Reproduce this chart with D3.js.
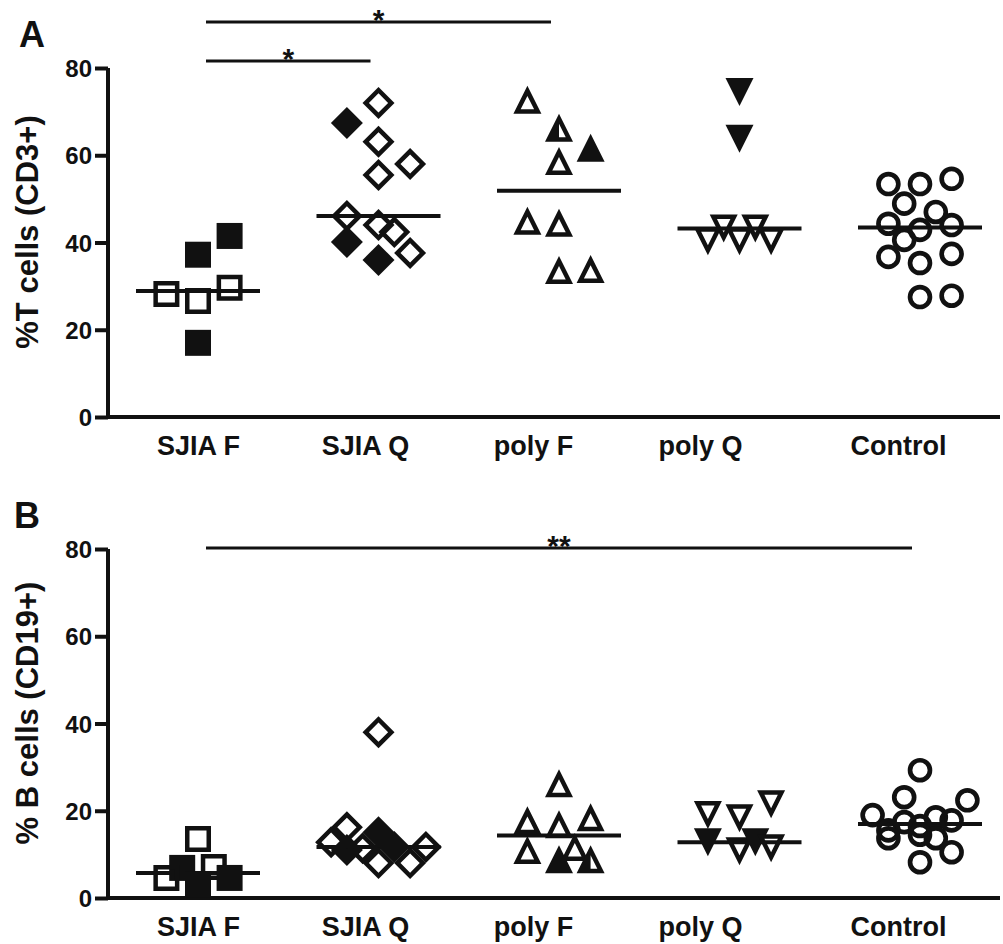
<!DOCTYPE html>
<html>
<head>
<meta charset="utf-8">
<script src="https://cdn.jsdelivr.net/npm/d3@7"></script>
<style>
body{margin:0;background:#fff;}
svg text{font-family:"Liberation Sans",Arial,sans-serif;font-weight:bold;fill:#111;}
</style>
</head>
<body>
<svg id="chart" width="1003" height="944"></svg>
<script>
var groups=['SJIA F','SJIA Q','poly F','poly Q','Control'];
var shapes=['square','diamond','triangle','invtriangle','circle'];
var yTicks=[0,20,40,60,80];

// each point: [value, fill (o=open, f=filled, h=half), column slot]
var tSjiaF=[[41.5,'f',2],[37.2,'f',0],[28.2,'o',-2],[26.6,'o',0],[29.6,'o',2],[17.0,'f',0]];
var tSjiaQ=[[72.0,'o',0],[67.4,'f',-2],[63.1,'o',0],[58.0,'o',2],[55.5,'o',0],[46.1,'o',-2],[44.0,'o',0],[42.4,'o',1],[40.1,'f',-2],[36.0,'f',0],[37.6,'o',2]];
var tPolyF=[[72.7,'o',-2],[66.3,'h',0],[61.7,'f',2],[58.7,'o',0],[45.0,'o',-2],[44.5,'o',0],[33.7,'o',0],[33.9,'o',2]];
var tPolyQ=[[74.5,'f',0],[63.8,'f',0],[43.2,'o',-1],[43.2,'o',1],[40.3,'o',-2],[40.3,'o',0],[40.3,'o',2]];
var tControl=[[53.4,'o',-2],[53.4,'o',0],[54.6,'o',2],[48.9,'o',-1],[47.0,'o',1],[44.3,'o',-2],[42.9,'o',0],[44.0,'o',2],[40.6,'o',-1],[36.7,'o',-2],[35.3,'o',0],[37.4,'o',2],[27.5,'o',0],[27.8,'o',2]];

var bSjiaF=[[13.5,'o',0],[6.9,'f',-1],[4.6,'o',-2],[7.1,'o',1],[3.0,'f',0],[4.6,'f',2]];
var bSjiaQ=[[38.0,'o',0],[16.2,'o',-2],[12.8,'o',-3],[11.0,'f',-2],[11.4,'o',-1],[15.1,'f',0],[11.7,'f',1],[8.0,'o',0],[8.0,'o',2],[11.7,'o',3]];
var bPolyF=[[26.3,'o',0],[17.8,'o',-2],[16.9,'o',0],[18.5,'o',2],[11.0,'o',-2],[8.9,'f',0],[11.7,'o',1],[8.9,'h',2]];
var bPolyQ=[[19.0,'o',-2],[18.3,'o',0],[21.5,'o',2],[12.8,'f',-2],[10.7,'o',0],[12.8,'f',1],[11.4,'o',2]];
var bControl=[[29.3,'o',0],[23.1,'o',-1],[22.4,'o',3],[19.0,'o',-3],[17.4,'o',-1],[16.5,'o',0],[18.5,'o',1],[17.8,'o',2],[15.5,'o',-2],[13.7,'o',-2],[13.7,'o',1],[10.5,'o',2],[8.2,'o',0],[14.5,'o',0]];

var tSig=[['SJIA F','SJIA Q','*'],['SJIA F','poly F','*']];
var bSig=[['SJIA F','Control','**']];

var svg=d3.select('#chart');
var ink='#111';
var slotW=15.8;

var xData=d3.scalePoint().domain(groups).range([198,920]);
var xLabel=d3.scaleOrdinal().domain(groups).range([198,365,533,700,898]);

function poly(pts) {
	return 'M'+pts.map(function(p) {return p[0]+','+p[1];}).join('L')+'Z';
}
function circ(r) {
	return 'M'+(-r)+',0A'+r+','+r+' 0 1,0 '+r+',0A'+r+','+r+' 0 1,0 '+(-r)+',0Z';
}
function outerPts(shape,s) {
	if (shape=='square') return [[-s,-s],[s,-s],[s,s],[-s,s]];
	if (shape=='diamond') return [[0,-s],[s,0],[0,s],[-s,0]];
	if (shape=='triangle') return [[0,-s],[s,s],[-s,s]];
	if (shape=='invtriangle') return [[0,s],[s,-s],[-s,-s]];
	return null;
}
function markerPath(shape,fill) {
	if (shape=='circle') {
		if (fill=='f') return circ(12.3);
		return circ(12.3)+circ(7.6);
	}
	var size={square:13,diamond:16,triangle:14,invtriangle:14}[shape];
	var outer=poly(outerPts(shape,size));
	if (fill=='f') return outer;
	if (shape=='square') return outer+poly(outerPts(shape,8.5));
	if (shape=='diamond') return outer+poly(outerPts(shape,9.6));
	// triangles: inner copy scaled about the incentre
	var sg=(shape=='triangle')?1:-1;
	var cy=sg*(14-8.65), k=0.48;
	var inner=outerPts(shape,14).map(function(p) {return [p[0]*k,cy+(p[1]-cy)*k];});
	if (fill=='h') {
		var tip=inner[0], right=inner[1];
		return outer+poly([tip,right,[0,right[1]]]);
	}
	return outer+poly(inner);
}

function drawPanel(opts) {
	var y=d3.scaleLinear().domain([0,80]).range([opts.y0,opts.y0-349]);
	var g=svg.append('g');

	g.append('text').attr('x',opts.letterX).attr('y',opts.y0-370).style('font-size','36px').text(opts.letter);

	// axes
	var yAxis=d3.axisLeft(y).tickValues(yTicks).tickSize(13).tickSizeOuter(0).tickPadding(3);
	var ya=g.append('g').attr('transform','translate(108,0)').call(yAxis);
	ya.select('.domain').attr('stroke',ink).attr('stroke-width',4).attr('d','M0,'+(y(80))+'V'+(opts.y0+2));
	ya.selectAll('.tick line').attr('stroke',ink).attr('stroke-width',4);
	ya.selectAll('.tick text').style('font-size','24px').attr('fill',ink).attr('dy','0.36em');

	g.append('line').attr('x1',106).attr('x2',1000).attr('y1',opts.y0).attr('y2',opts.y0)
		.attr('stroke',ink).attr('stroke-width',4);

	var xAxis=d3.axisBottom(xLabel).tickSize(0).tickPadding(0);
	var xa=g.append('g').attr('transform','translate(0,'+opts.y0+')').call(xAxis);
	xa.select('.domain').remove();
	xa.selectAll('.tick text').style('font-size','27px').attr('fill',ink).attr('dy','1.4em');

	g.append('text').attr('transform','translate(27,'+(opts.y0-185)+') rotate(-90)')
		.attr('text-anchor','middle').attr('dy','0.35em').style('font-size','31px').text(opts.title);

	// medians + points
	opts.cells.forEach(function(pts,i) {
		var grp=groups[i];
		var cx=xData(grp);
		var med=d3.median(pts,function(d) {return d[0];});
		g.append('line').attr('x1',cx-62).attr('x2',cx+62).attr('y1',y(med)).attr('y2',y(med))
			.attr('stroke',ink).attr('stroke-width',4);
		g.selectAll('.pt'+i).data(pts).enter().append('path')
			.attr('transform',function(d) {return 'translate('+(cx+d[2]*slotW)+','+y(d[0])+')';})
			.attr('d',function(d) {return markerPath(shapes[i],d[1]);})
			.attr('fill',ink).attr('fill-rule','evenodd');
	});

	// significance brackets
	opts.sig.forEach(function(s,k) {
		var ly=opts.sigY[k];
		var x1=xData(s[0])+8, x2=xData(s[1])-8;
		g.append('line').attr('x1',x1).attr('x2',x2).attr('y1',ly).attr('y2',ly)
			.attr('stroke',ink).attr('stroke-width',3);
		g.append('text').attr('x',(x1+x2)/2).attr('y',ly+8).attr('text-anchor','middle')
			.style('font-size','30px').text(s[2]);
	});
}

drawPanel({y0:417,letter:'A',letterX:19,title:'%T cells (CD3+)',cells:[tSjiaF,tSjiaQ,tPolyF,tPolyQ,tControl],sig:tSig,sigY:[61,22]});
drawPanel({y0:898,letter:'B',letterX:14,title:'% B cells (CD19+)',cells:[bSjiaF,bSjiaQ,bPolyF,bPolyQ,bControl],sig:bSig,sigY:[548]});
</script>
</body>
</html>
